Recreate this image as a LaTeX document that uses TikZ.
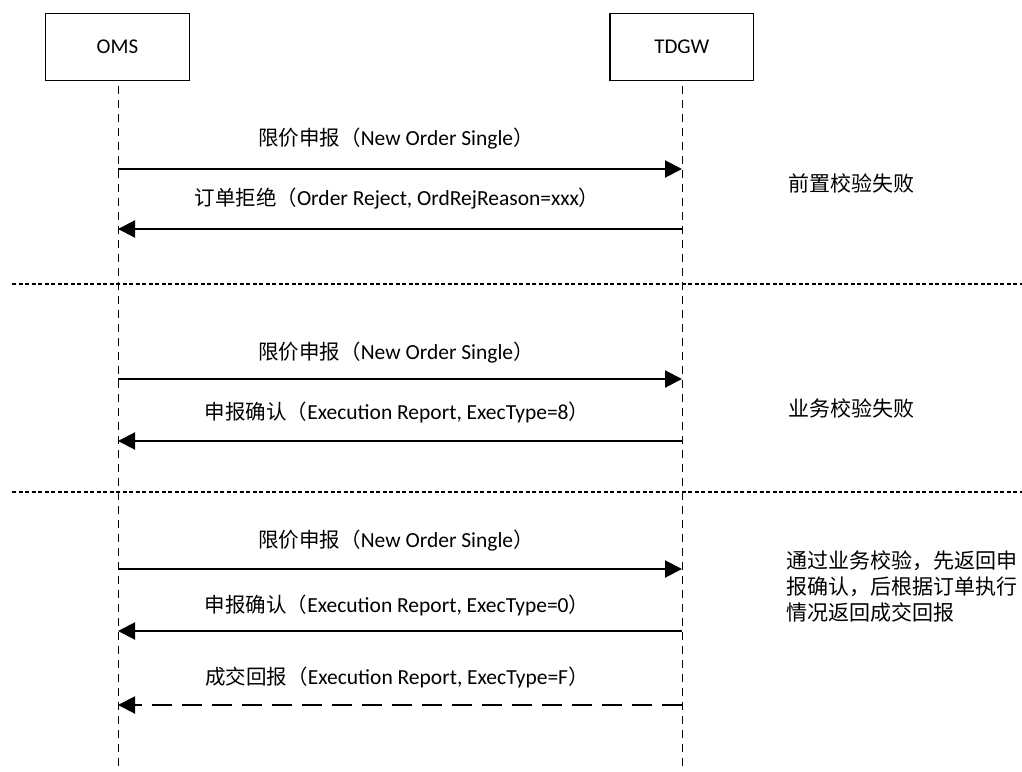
\documentclass[tikz,border=0pt]{standalone}
\usepackage{fontspec}
\setmainfont{Carlito}
\newfontfamily\cjk{Noto Sans CJK SC}
\usetikzlibrary{arrows.meta}
\newcommand{\zh}[1]{{\cjk\fontsize{20.5}{23}\selectfont #1}}
\begin{document}
\begin{tikzpicture}[x=1pt,y=-1pt,
  actor/.style={draw,line width=1.3pt,minimum width=143.5pt,minimum height=67.5pt,inner sep=0pt,font=\fontsize{21}{24}\selectfont},
  life/.style={line width=0.9pt,dash pattern=on 8pt off 6pt},
  msg/.style={line width=2pt,-{Triangle[length=17pt,width=17pt]}},
  ret/.style={msg,dash pattern=on 20pt off 10pt},
  sep/.style={line width=1.7pt,dash pattern=on 4pt off 2.5pt},
  lbl/.style={font=\fontsize{21.5}{24}\selectfont,inner sep=0pt},
  note/.style={font=\cjk\fontsize{21}{26}\selectfont,inner sep=0pt,align=left,anchor=west}]
\useasboundingbox (0,0) rectangle (1022,771);
\node[actor] (oms) at (117.5,47) {OMS};
\node[actor] (tdgw) at (681.8,47) {TDGW};
\coordinate (omsend) at (118,771);
\coordinate (tdgwend) at (682,771);
\draw[life] (oms.south) ++(0.5,4.5) -- (omsend);
\draw[life] (tdgw.south) ++(0.2,4.5) -- (tdgwend);
% separators
\coordinate (s1a) at (12,284); \coordinate (s1b) at (1022,284);
\coordinate (s2a) at (12,492); \coordinate (s2b) at (1022,492);
\draw[sep] (s1a) -- (s1b);
\draw[sep] (s2a) -- (s2b);
% messages
\coordinate (a1) at (118,169); \coordinate (b1) at (682,169);
\coordinate (a2) at (118,229); \coordinate (b2) at (682,229);
\coordinate (a3) at (118,379); \coordinate (b3) at (682,379);
\coordinate (a4) at (118,441); \coordinate (b4) at (682,441);
\coordinate (a5) at (118,569); \coordinate (b5) at (682,569);
\coordinate (a6) at (118,631); \coordinate (b6) at (682,631);
\coordinate (a7) at (118,705); \coordinate (b7) at (682,705);
\draw[msg] (a1) -- (b1);
\draw[msg] (b2) -- (a2);
\draw[msg] (a3) -- (b3);
\draw[msg] (b4) -- (a4);
\draw[msg] (a5) -- (b5);
\draw[msg] (b6) -- (a6);
\draw[ret] (b7) -- (a7);
\node[lbl] (l1) at (396,139) {\zh{限价申报（}New Order Single\zh{）}};
\node[lbl] (l2) at (397,199) {\zh{订单拒绝（}Order Reject, OrdRejReason=xxx\zh{）}};
\node[lbl] (l3) at (396,353) {\zh{限价申报（}New Order Single\zh{）}};
\node[lbl] (l4) at (397,412) {\zh{申报确认（}Execution Report, ExecType=8\zh{）}};
\node[lbl] (l5) at (396,541) {\zh{限价申报（}New Order Single\zh{）}};
\node[lbl] (l6) at (397,605) {\zh{申报确认（}Execution Report, ExecType=0\zh{）}};
\node[lbl] (l7) at (397,677) {\zh{成交回报（}Execution Report, ExecType=F\zh{）}};
\node[note] (n1) at (788,183) {前置校验失败};
\node[note] (n2) at (788,408) {业务校验失败};
\node[note] (n3) at (786,587) {通过业务校验，先返回申\\报确认，后根据订单执行\\情况返回成交回报};
\end{tikzpicture}
\end{document}
